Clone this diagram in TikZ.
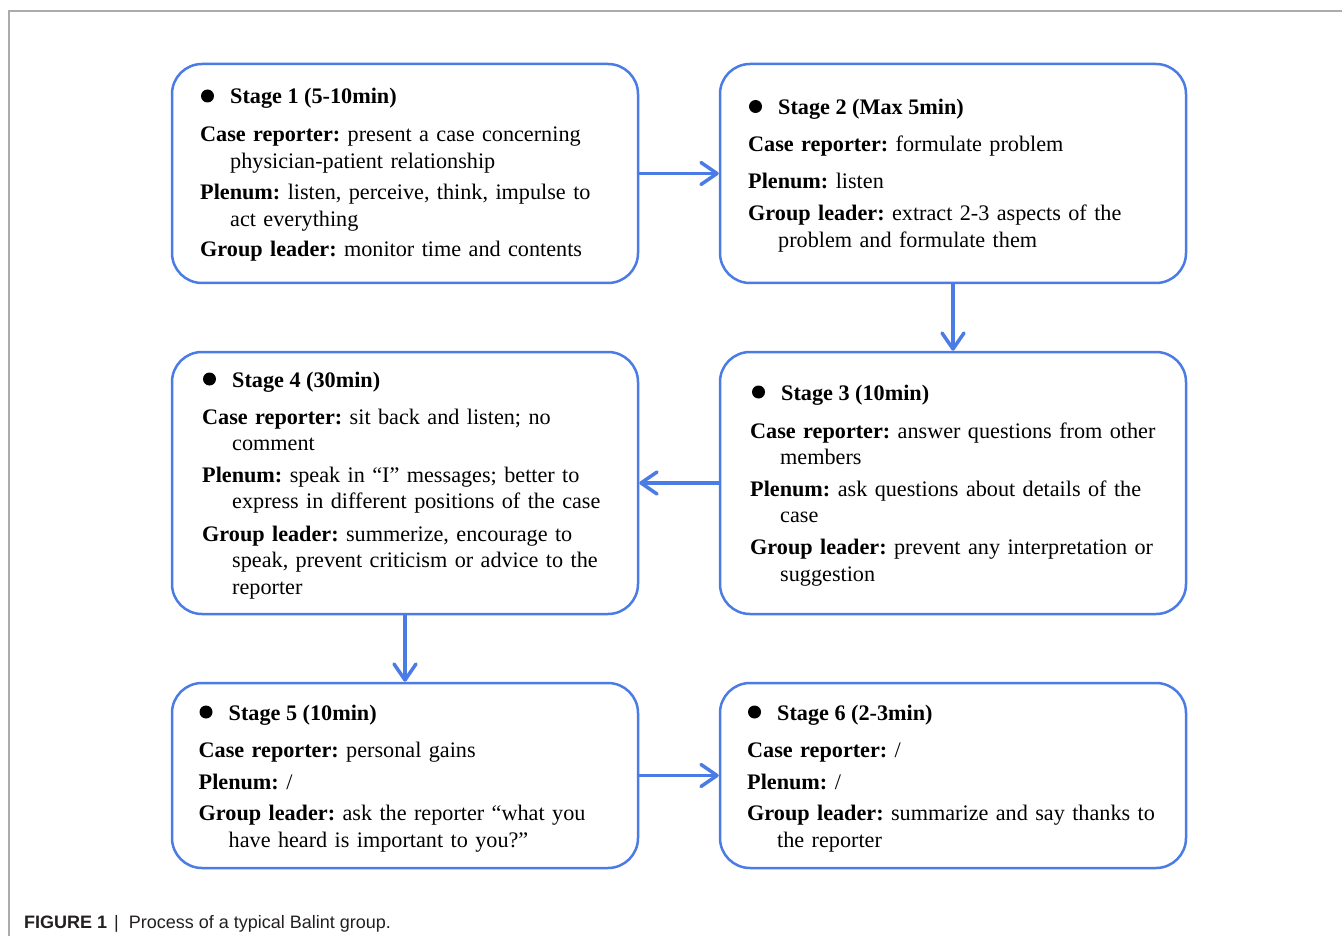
\documentclass[tikz,border=0pt]{standalone}
\usepackage{fontspec}
\setmainfont{Liberation Serif}
\setsansfont{Liberation Sans}
\usetikzlibrary{arrows.meta,positioning}
\definecolor{StageBlue}{HTML}{4B7BE5}
\definecolor{FrameGray}{HTML}{ABABAB}
\definecolor{CaptionInk}{HTML}{231F20}
\newcommand{\duty}[2]{\textbf{#1:} #2}
\newcommand{\wrapline}{\newline\hspace*{30pt}}

\begin{document}
\begin{tikzpicture}[x=1pt,y=-1pt,
    stagebox/.style={draw=StageBlue,line width=2.5pt,rounded corners=30pt,minimum width=466pt,inner sep=0pt},
    stagehead/.style={anchor=base west,inner sep=0pt,font=\fontsize{22.2pt}{26.7pt}\selectfont\frenchspacing\bfseries},
    stagetext/.style={anchor=base west,inner sep=0pt,text width=440pt,font=\fontsize{22.2pt}{26.7pt}\selectfont\frenchspacing},
    flow/.style={-{Straight Barb[length=16pt,width=22pt,round]},StageBlue,line width=3.5pt}]
    \useasboundingbox (0,0) rectangle (1342,936);
    \draw[FrameGray,line width=1.5pt] (1342,11) -| (9,936);

    % stage boxes
    \node[stagebox,minimum height=219pt] (s1) at (405,173.5) {};
    \node[stagebox,minimum height=219pt] (s2) at (953,173.5) {};
    \node[stagebox,minimum height=262pt] (s4) at (405,483) {};
    \node[stagebox,minimum height=262pt] (s3) at (953,483) {};
    \node[stagebox,minimum height=185pt] (s5) at (405,775.5) {};
    \node[stagebox,minimum height=185pt] (s6) at (953,775.5) {};

    % stage 1
    \node[stagehead] (h1) at (230,104) {Stage 1 (5-10min)};
    \node[stagetext] (c1) at (200,142) {\duty{Case reporter}{present a case concerning\wrapline physician-patient relationship}};
    \node[stagetext] (p1) at (200,200) {\duty{Plenum}{listen, perceive, think, impulse to\wrapline act everything}};
    \node[stagetext] (g1) at (200,257) {\duty{Group leader}{monitor time and contents}};

    % stage 2
    \node[stagehead] (h2) at (778,114.5) {Stage 2 (Max 5min)};
    \node[stagetext] (c2) at (748,151.5) {\duty{Case reporter}{formulate problem}};
    \node[stagetext] (p2) at (748,188.5) {\duty{Plenum}{listen}};
    \node[stagetext] (g2) at (748,220.5) {\duty{Group leader}{extract 2-3 aspects of the\wrapline problem and formulate them}};

    % stage 3
    \node[stagehead] (h3) at (781,400) {Stage 3 (10min)};
    \node[stagetext] (c3) at (750,438) {\duty{Case reporter}{answer questions from other\wrapline members}};
    \node[stagetext] (p3) at (750,496) {\duty{Plenum}{ask questions about details of the\wrapline case}};
    \node[stagetext] (g3) at (750,554.5) {\duty{Group leader}{prevent any interpretation or\wrapline suggestion}};

    % stage 4
    \node[stagehead] (h4) at (232,387) {Stage 4 (30min)};
    \node[stagetext] (c4) at (202,424) {\duty{Case reporter}{sit back and listen; no\wrapline comment}};
    \node[stagetext] (p4) at (202,482) {\duty{Plenum}{speak in “I” messages; better to\wrapline express in different positions of the case}};
    \node[stagetext] (g4) at (202,541) {\duty{Group leader}{summerize, encourage to\wrapline speak, prevent criticism or advice to the\wrapline reporter}};

    % stage 5
    \node[stagehead] (h5) at (228.5,720) {Stage 5 (10min)};
    \node[stagetext] (c5) at (198.5,757) {\duty{Case reporter}{personal gains}};
    \node[stagetext] (p5) at (198.5,789) {\duty{Plenum}{/}};
    \node[stagetext] (g5) at (198.5,820.5) {\duty{Group leader}{ask the reporter “what you\wrapline have heard is important to you?”}};

    % stage 6
    \node[stagehead] (h6) at (777,720) {Stage 6 (2-3min)};
    \node[stagetext] (c6) at (747,757) {\duty{Case reporter}{/}};
    \node[stagetext] (p6) at (747,789) {\duty{Plenum}{/}};
    \node[stagetext] (g6) at (747,820.5) {\duty{Group leader}{summarize and say thanks to\wrapline the reporter}};

    \foreach \h in {h1,h2,h3,h4,h5,h6}
      \fill ([xshift=-22.5pt,yshift=8pt]\h.base west) circle (6.5pt);

    % flow between stages
    \draw[flow] (s1.east) -- (s2.west);
    \draw[flow] (s2.south) -- (s3.north);
    \draw[flow] (s3.west) -- (s4.east);
    \draw[flow] (s4.south) -- (s5.north);
    \draw[flow] (s5.east) -- (s6.west);

    \node[anchor=base west,inner sep=0pt,font=\fontsize{18pt}{21pt}\selectfont\sffamily,text=CaptionInk] (caption) at (24,928) {\textbf{FIGURE 1}\hspace{7pt}|\hspace{10pt}Process of a typical Balint group.};
\end{tikzpicture}
\end{document}
